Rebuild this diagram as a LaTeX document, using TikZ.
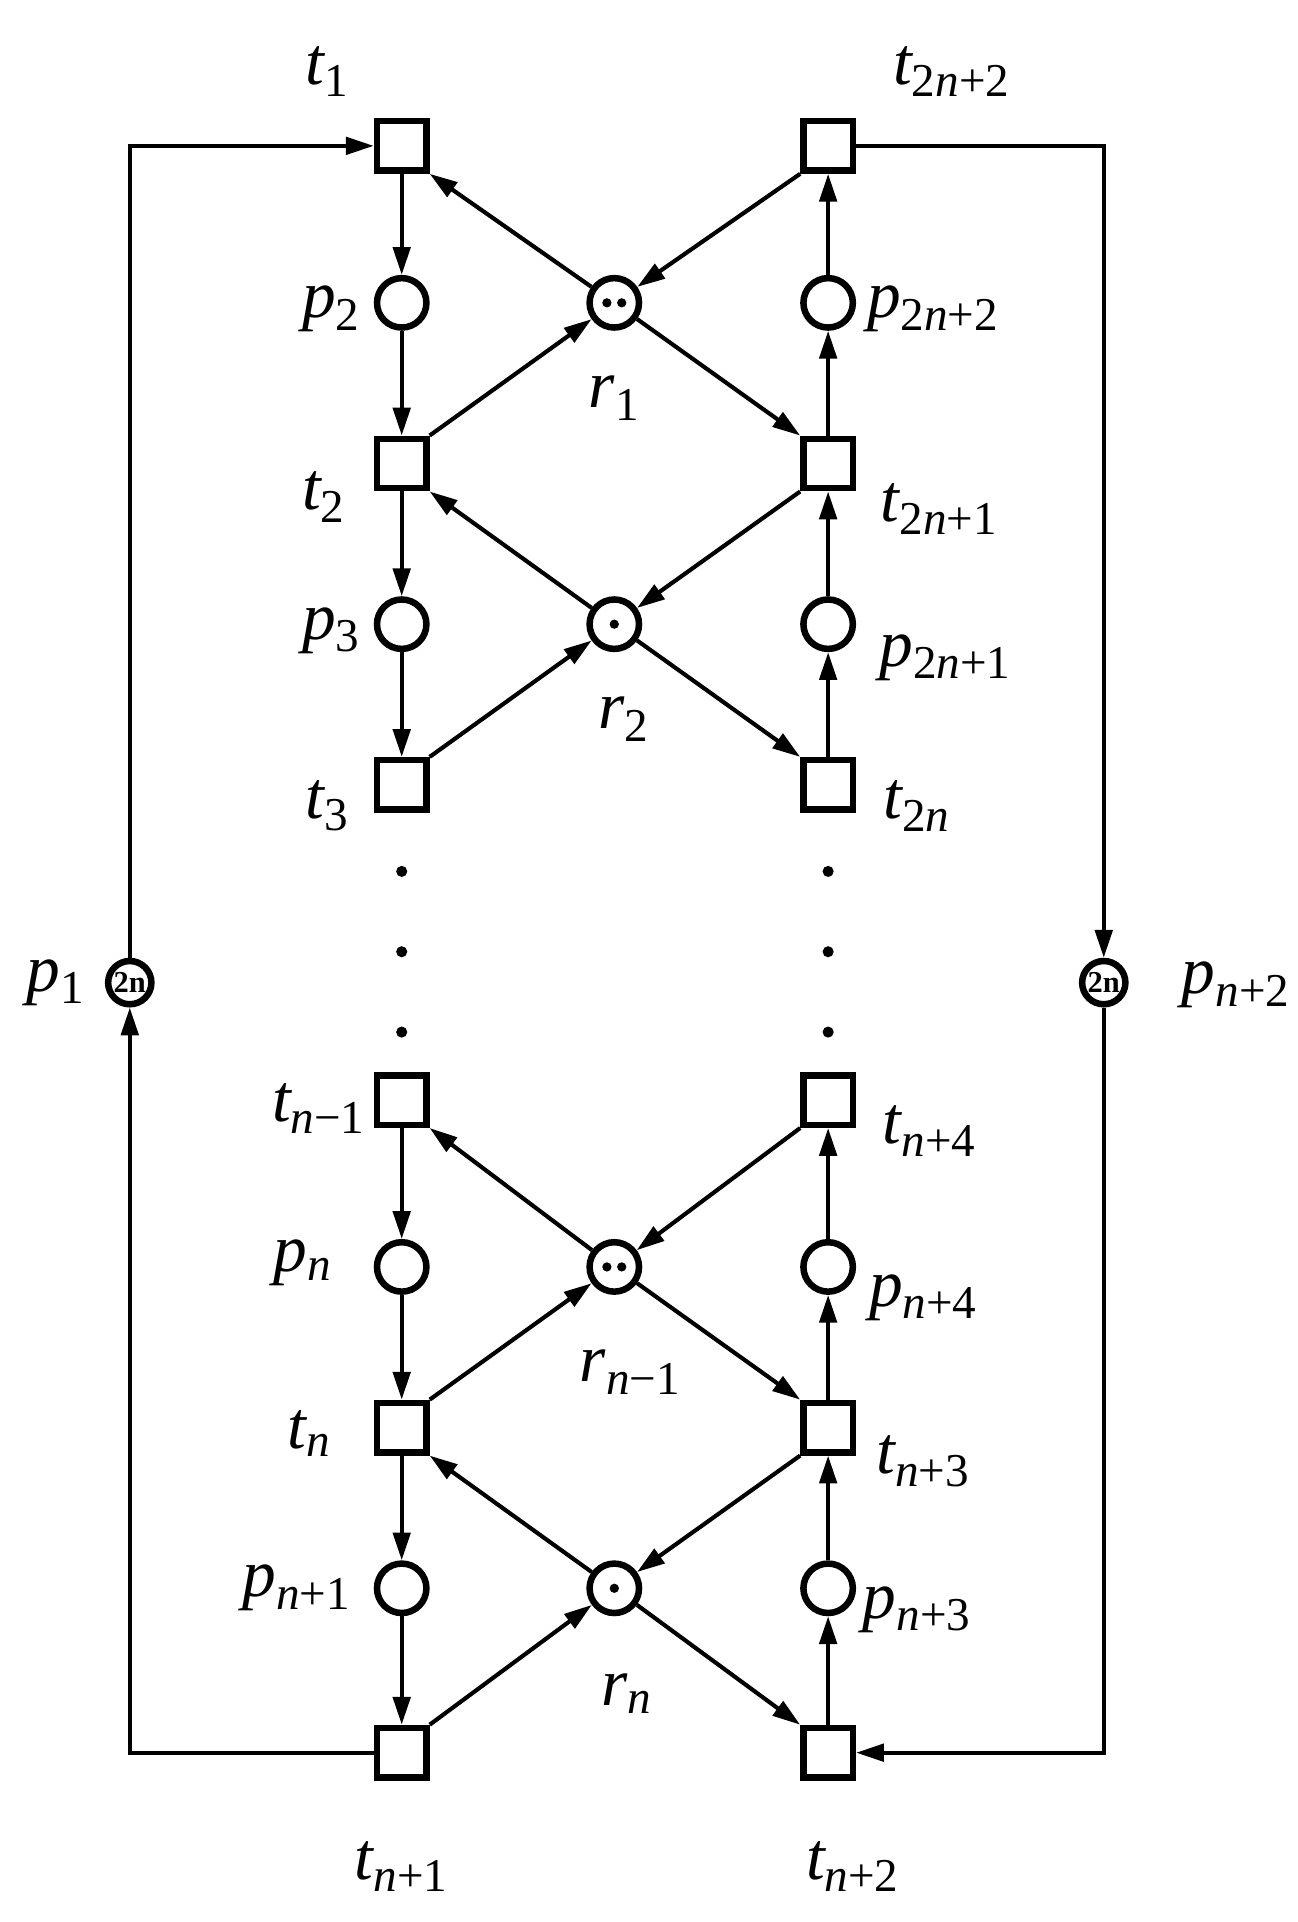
\documentclass[tikz,border=0pt]{standalone}
\usepackage{fontspec}
\setmainfont{Liberation Serif}
\usetikzlibrary{arrows.meta}
\begin{document}
\begin{tikzpicture}[x=0.02cm,y=-0.02cm,
 tr/.style={draw,line width=3pt,minimum size=0.8cm,inner sep=0pt},
 pl/.style={draw,circle,line width=3pt,minimum size=0.8cm,inner sep=0pt},
 arc/.style={line width=1.9pt,-{Triangle[length=0.45cm,width=0.28cm]}},
 lb/.style={font=\fontsize{31}{33}\selectfont\itshape},
 dot/.style={circle,fill,inner sep=0pt,minimum size=0.15cm}]
\useasboundingbox (0,0) rectangle (1050,1555);
\foreach \n/\x/\y in {t1/325/118,t2/325/375,t3/325/635,tnm/325/890,tn/325/1155,tna/325/1418,
 tb/670/118,tc/670/375,td/670/635,te/670/890,tf/670/1155,tg/670/1418}
 \node[tr] (\n) at (\x,\y) {};
\foreach \n/\x/\y in {p2/325/245,p3/325/505,pn/325/1025,pna/325/1285,
 q2/670/245,q1/670/505,q4/670/1025,q3/670/1285,
 r1/497/245,r2/497/505,rm/497/1025,rn/497/1285}
 \node[pl] (\n) at (\x,\y) {};
\node[pl,minimum size=0.7cm] (p1) at (105,795) {\bfseries\fontsize{14}{14}\selectfont 2n};
\node[pl,minimum size=0.7cm] (pm) at (893,795) {\bfseries\fontsize{14}{14}\selectfont 2n};
\foreach \r in {r1,rm}{\node[dot] at ([xshift=-0.12cm]\r.center){};\node[dot] at ([xshift=0.12cm]\r.center){};}
\foreach \r in {r2,rn}{\node[dot] at (\r.center){};}
\foreach \x in {325,670}\foreach \y in {705,770,835}\node[dot,minimum size=0.18cm] at (\x,\y){};
\foreach \a/\b in {t1/p2,p2/t2,t2/p3,p3/t3,tnm/pn,pn/tn,tn/pna,pna/tna}\draw[arc] (\a)--(\b);
\foreach \a/\b in {tc/q2,q2/tb,td/q1,q1/tc,tf/q4,q4/te,tg/q3,q3/tf}\draw[arc] (\a)--(\b);
\foreach \r/\ta/\tb/\tc/\td in {r1/t1/t2/tb/tc,r2/t2/t3/tc/td,rm/tnm/tn/te/tf,rn/tn/tna/tf/tg}{
 \draw[arc] (\r)--(\ta.south east);
 \draw[arc] (\tb.north east)--(\r);
 \draw[arc] (\tc.south west)--(\r);
 \draw[arc] (\r)--(\td.north west);}
\draw[arc] (tna.west)-|(p1.south);
\draw[arc] (p1.north)|-(t1.west);
\draw[arc] (tb.east)-|(pm.north);
\draw[arc] (pm.south)|-(tg.east);
\node[lb] at (265,58) {t\textsubscript{\upshape 1}};
\node[lb] at (770,58) {t\textsubscript{\upshape 2\itshape n\upshape +2}};
\node[lb] at (268,250) {p\textsubscript{\upshape 2}};
\node[lb] at (755,250) {p\textsubscript{\upshape 2\itshape n\upshape +2}};
\node[lb] at (497,322) {r\textsubscript{\upshape 1}};
\node[lb] at (262,402) {t\textsubscript{\upshape 2}};
\node[lb] at (760,412) {t\textsubscript{\upshape 2\itshape n\upshape +1}};
\node[lb] at (268,510) {p\textsubscript{\upshape 3}};
\node[lb] at (765,532) {p\textsubscript{\upshape 2\itshape n\upshape +1}};
\node[lb] at (505,582) {r\textsubscript{\upshape 2}};
\node[lb] at (265,652) {t\textsubscript{\upshape 3}};
\node[lb] at (742,652) {t\textsubscript{\upshape 2\itshape n}};
\node[lb] at (45,795) {p\textsubscript{\upshape 1}};
\node[lb] at (1000,797) {p\textsubscript{n\upshape +2}};
\node[lb] at (258,897) {t\textsubscript{n\upshape −1}};
\node[lb] at (752,915) {t\textsubscript{n\upshape +4}};
\node[lb] at (245,1022) {p\textsubscript{n}};
\node[lb] at (747,1050) {p\textsubscript{n\upshape +4}};
\node[lb] at (510,1110) {r\textsubscript{n\upshape −1}};
\node[lb] at (250,1160) {t\textsubscript{n}};
\node[lb] at (747,1182) {t\textsubscript{n\upshape +3}};
\node[lb] at (240,1285) {p\textsubscript{n\upshape +1}};
\node[lb] at (742,1302) {p\textsubscript{n\upshape +3}};
\node[lb] at (507,1370) {r\textsubscript{n}};
\node[lb] at (325,1510) {t\textsubscript{n\upshape +1}};
\node[lb] at (690,1510) {t\textsubscript{n\upshape +2}};
\end{tikzpicture}
\end{document}
